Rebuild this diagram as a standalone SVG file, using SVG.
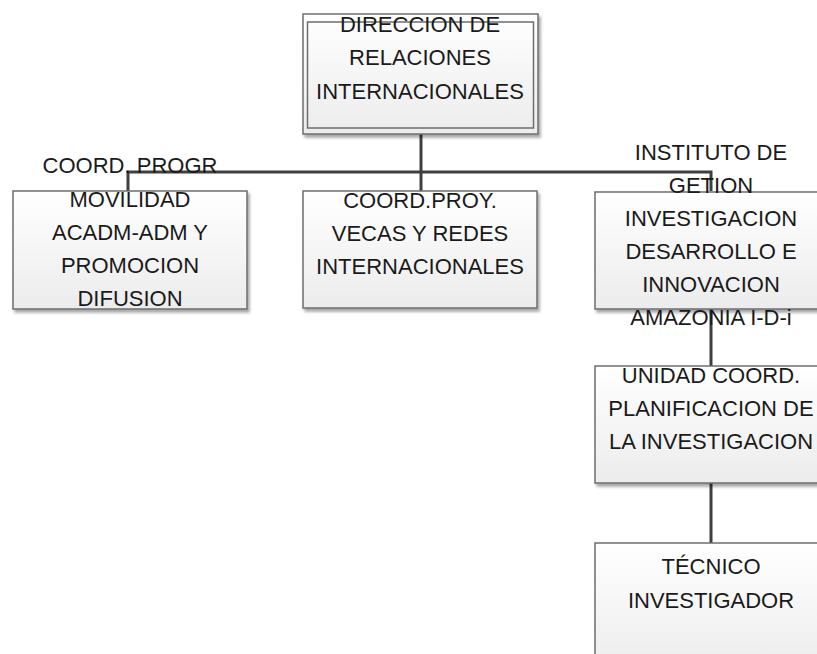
<svg xmlns="http://www.w3.org/2000/svg" width="817" height="654" viewBox="0 0 817 654">
  <defs>
    <linearGradient id="boxFill" x1="0" y1="0" x2="0" y2="1">
      <stop offset="0" stop-color="#ffffff"/>
      <stop offset="1" stop-color="#ececec"/>
    </linearGradient>
    <filter id="shadow" x="-10%" y="-10%" width="130%" height="130%">
      <feGaussianBlur in="SourceAlpha" stdDeviation="1.5"/>
      <feOffset dx="2" dy="3" result="blur"/>
      <feComponentTransfer><feFuncA type="linear" slope="0.35"/></feComponentTransfer>
      <feMerge><feMergeNode/><feMergeNode in="SourceGraphic"/></feMerge>
    </filter>
  </defs>
  <style>
    .box { fill: url(#boxFill); stroke: #6e6e6e; stroke-width: 1.5; filter: url(#shadow); }
    .inner { fill: none; stroke: #6e6e6e; stroke-width: 1.5; }
    .conn { fill: none; stroke: #3f3f3f; stroke-width: 3; }
    text { font-family: "Liberation Sans", Arial, sans-serif; font-size: 22px; fill: #1a1a1a; text-anchor: middle; }
  </style>
  <rect width="817" height="654" fill="#ffffff"/>

  <g id="connectors">
    <path class="conn" d="M421 134 V191"/>
    <path class="conn" d="M128 191 V172 H711 V191"/>
    <path class="conn" d="M711 309 V366"/>
    <path class="conn" d="M711 483 V543"/>
  </g>

  <g id="direccion">
    <rect class="box" x="303" y="14" width="235" height="120"/>
    <rect class="inner" x="307.5" y="22" width="226" height="106"/>
    <text x="420" y="32">DIRECCION DE</text>
    <text x="420" y="65">RELACIONES</text>
    <text x="420" y="99">INTERNACIONALES</text>
  </g>

  <g id="coord-movilidad">
    <rect class="box" x="13" y="191" width="234" height="118"/>
    <text x="130" y="173">COORD. PROGR</text>
    <text x="130" y="207">MOVILIDAD</text>
    <text x="130" y="240">ACADM-ADM Y</text>
    <text x="130" y="273">PROMOCION</text>
    <text x="130" y="306">DIFUSION</text>
  </g>

  <g id="coord-proyectos">
    <rect class="box" x="303" y="191" width="234" height="117"/>
    <text x="420" y="208">COORD.PROY.</text>
    <text x="420" y="241">VECAS Y REDES</text>
    <text x="420" y="274">INTERNACIONALES</text>
  </g>

  <g id="instituto">
    <rect class="box" x="595" y="192" width="234" height="117"/>
    <text x="711" y="160">INSTITUTO DE</text>
    <text x="711" y="193">GETION</text>
    <text x="711" y="226">INVESTIGACION</text>
    <text x="711" y="259">DESARROLLO E</text>
    <text x="711" y="292">INNOVACION</text>
    <text x="711" y="325">AMAZONIA I-D-i</text>
  </g>

  <g id="unidad-coord">
    <rect class="box" x="595" y="366" width="234" height="117"/>
    <text x="711" y="383">UNIDAD COORD.</text>
    <text x="711" y="416">PLANIFICACION DE</text>
    <text x="711" y="449">LA INVESTIGACION</text>
  </g>

  <g id="tecnico">
    <rect class="box" x="595" y="543" width="234" height="130"/>
    <text x="711" y="574">TÉCNICO</text>
    <text x="711" y="608">INVESTIGADOR</text>
  </g>
</svg>
